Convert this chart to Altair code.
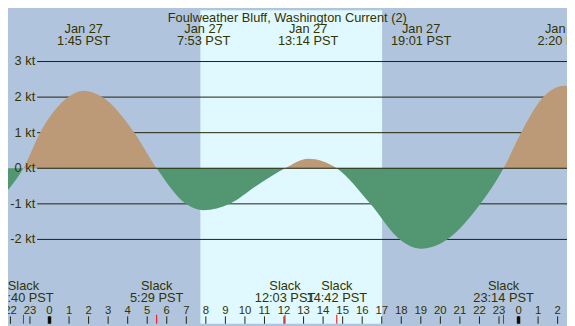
import altair as alt
import pandas as pd

# ---------------- data ----------------
# current speed (knots, + flood / - ebb) at hours since 0:00 Jan 27 PST
curve_hours = [-2.124, -1.333, -0.48, 0.96, 1.75, 2.70, 4.34, 5.483, 6.98, 7.883,
               9.22, 10.65, 12.05, 13.233, 14.70, 16.42, 17.92, 19.017, 20.35,
               22.05, 23.233, 24.13, 25.27, 26.333, 26.48]
curve_kt = [-0.61, 0.0, 1.0, 2.0, 2.18, 2.0, 1.0, 0.0, -1.0, -1.18,
            -1.0, -0.47, 0.0, 0.27, 0.0, -1.0, -2.0, -2.26, -2.0,
            -1.0, 0.0, 1.0, 2.0, 2.32, 2.31]

# daylight / night bands (hours)
band_start = [-2.124, 7.72, 17.03]
band_end = [7.72, 17.03, 26.48]
band_kind = ["night", "day", "night"]

# horizontal grid lines
grid_kt = [3, 2, 1, -1, -2]
label_kt = [3, 2, 1, 0, -1, -2]
label_txt = ["3 kt", "2 kt", "1 kt", "0 kt", "-1 kt", "-2 kt"]

# hour ticks along the bottom
hour_pos = list(range(-2, 27))
hour_txt = ["22", "23", "0", "1", "2", "3", "4", "5", "6", "7", "8", "9", "10",
            "11", "12", "13", "14", "15", "16", "17", "18", "19", "20", "21",
            "22", "23", "0", "1", "2"]
midnight_pos = [0, 24]

# slack water events
slack_hours = [-1.333, 5.483, 12.05, 14.70, 23.233]
slack_times = ["22:40 PST", "5:29 PST", "12:03 PST", "14:42 PST", "23:14 PST"]

# max flood / max ebb events
ext_hours = [1.75, 7.883, 13.233, 19.017, 26.333]
ext_dates = ["Jan 27", "Jan 27", "Jan 27", "Jan 27", "Jan 28"]
ext_times = ["1:45 PST", "7:53 PST", "13:14 PST", "19:01 PST", "2:20 PST"]

title_text = "Foulweather Bluff, Washington Current (2)"

# ---------------- layout / style ----------------
W, H = 567, 318
SX, SY = W / 575.0, H / 326.0
X_DOM = [-2.124, 26.48]
Y_DOM = [-4.370, 4.441]
FONT = "Liberation Sans"
TXT = "#333300"
LINE = "#222200"
NIGHT = "#b0c4de"
DAY = "#e0f8ff"
TAN = "#bc9a78"
GREEN = "#539672"

xs = alt.Scale(domain=X_DOM, nice=False, zero=False)
ys = alt.Scale(domain=Y_DOM, nice=False, zero=False)


def X(field):
    return alt.X(field, type="quantitative", scale=xs, axis=None)


def Y(field):
    return alt.Y(field, type="quantitative", scale=ys, axis=None)


curve_df = pd.DataFrame({"h": curve_hours, "kt": curve_kt})
band_df = pd.DataFrame({"h": band_start, "h2": band_end, "kind": band_kind})
grid_df = pd.DataFrame({"kt": grid_kt})
zero_df = pd.DataFrame({"kt": [0]})
ylab_df = pd.DataFrame({"kt": label_kt, "t": label_txt})
hour_df = pd.DataFrame({"h": hour_pos, "t": hour_txt})
mid_df = pd.DataFrame({"h": midnight_pos})
slack_df = pd.DataFrame({"h": slack_hours, "t": slack_times, "s": ["Slack"] * len(slack_hours)})
ext_df = pd.DataFrame({"h": ext_hours, "d": ext_dates, "t": ext_times})
title_df = pd.DataFrame({"t": [title_text]})

bands = alt.Chart(band_df).mark_rect().encode(
    x=X("h"), x2="h2",
    y=alt.value(0), y2=alt.value(H),
    color=alt.Color("kind:N", scale=alt.Scale(domain=["night", "day"], range=[NIGHT, DAY]), legend=None),
)

grid = alt.Chart(grid_df).mark_rule(color=LINE, strokeWidth=1).encode(
    y=Y("kt"), x=alt.value(30 * SX), x2=alt.value(W)
)

vmax, vmin = max(curve_kt), min(curve_kt)
split = vmax / (vmax - vmin)
grad = alt.Gradient(
    gradient="linear", x1=0, y1=0, x2=0, y2=1,
    stops=[alt.GradientStop(color=TAN, offset=0),
           alt.GradientStop(color=TAN, offset=split),
           alt.GradientStop(color=GREEN, offset=split),
           alt.GradientStop(color=GREEN, offset=1)],
)
area = alt.Chart(curve_df).mark_area(color=grad, interpolate="monotone", clip=True).encode(
    x=X("h"), y=alt.Y("kt", type="quantitative", scale=ys, axis=None, stack=None), y2=alt.datum(0)
)

zero = alt.Chart(zero_df).mark_rule(color=LINE, strokeWidth=1).encode(
    y=Y("kt"), x=alt.value(30 * SX), x2=alt.value(W)
)

ylabels = alt.Chart(ylab_df).mark_text(
    align="right", baseline="middle", font=FONT, fontSize=13, color=TXT
).encode(y=Y("kt"), x=alt.value(28 * SX), text="t:N")

hticks = alt.Chart(hour_df).mark_rule(color=LINE, strokeWidth=1).encode(
    x=X("h"), y=alt.value(318.3 * SY), y2=alt.value(H)
)
mticks = alt.Chart(mid_df).mark_rule(color="#111100", strokeWidth=3.5).encode(
    x=X("h"), y=alt.value(318.3 * SY), y2=alt.value(H)
)
slticks = alt.Chart(slack_df).mark_rule(color="#ff0000", strokeWidth=1).encode(
    x=X("h"), y=alt.value(316.7 * SY), y2=alt.value(H)
)
hlabels = alt.Chart(hour_df).mark_text(
    align="center", baseline="alphabetic", font=FONT, fontSize=11.5, color=TXT
).encode(x=X("h"), y=alt.value(316 * SY), text="t:N")

slack1 = alt.Chart(slack_df).mark_text(
    align="center", baseline="alphabetic", font=FONT, fontSize=13, color=TXT
).encode(x=X("h"), y=alt.value(291 * SY), text="s:N")
slack2 = alt.Chart(slack_df).mark_text(
    align="center", baseline="alphabetic", font=FONT, fontSize=13, color=TXT
).encode(x=X("h"), y=alt.value(303.3 * SY), text="t:N")

ext1 = alt.Chart(ext_df).mark_text(
    align="center", baseline="alphabetic", font=FONT, fontSize=13, color=TXT
).encode(x=X("h"), y=alt.value(24 * SY), text="d:N")
ext2 = alt.Chart(ext_df).mark_text(
    align="center", baseline="alphabetic", font=FONT, fontSize=13, color=TXT
).encode(x=X("h"), y=alt.value(35.7 * SY), text="t:N")

title = alt.Chart(title_df).mark_text(
    align="center", baseline="alphabetic", font=FONT, fontSize=13, color=TXT
).encode(x=alt.value(287.3 * SX), y=alt.value(11.8 * SY), text="t:N")

chart = alt.layer(
    bands, grid, area, zero, ylabels, hticks, slticks, mticks, hlabels,
    slack1, slack2, ext1, ext2, title
).properties(
    width=W, height=H, padding=0, autosize=alt.AutoSizeParams(type="none"),
    background=NIGHT,
).configure_view(stroke=None)

chart.save("out.html", embed_options={"renderer": "svg", "actions": False})
